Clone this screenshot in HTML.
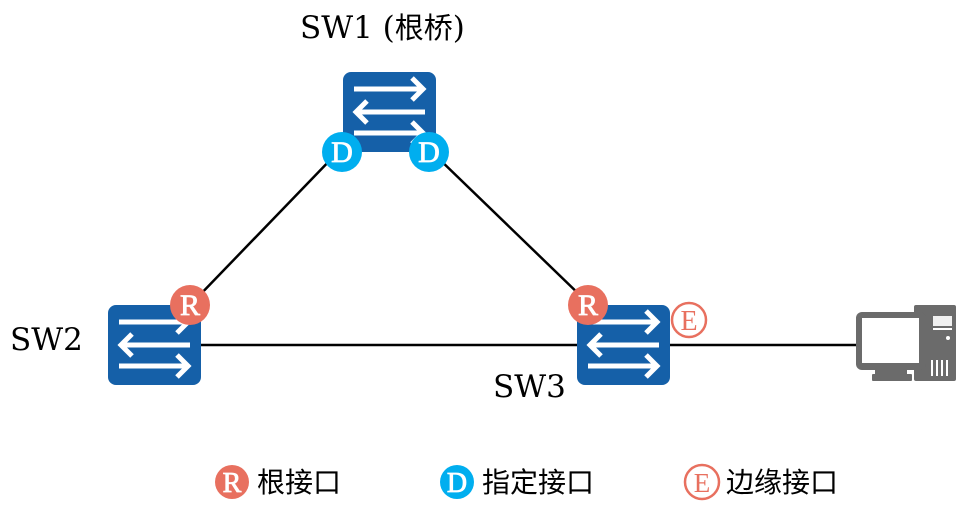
<!DOCTYPE html>
<html><head><meta charset="utf-8"><style>
html,body{margin:0;padding:0;background:#fff;width:956px;height:507px;overflow:hidden}
svg{display:block}
text{font-family:"Liberation Serif","DejaVu Serif",serif}
.lbl{font-family:"DejaVu Serif","Liberation Serif","Noto Serif CJK SC",serif;font-size:31px;fill:#000}
.cjk{font-family:"Liberation Sans","Noto Sans CJK SC",sans-serif;font-size:28px;fill:#000}
</style></head><body>
<svg width="956" height="507" viewBox="0 0 956 507">
<defs>
<g id="sw">
<rect x="0" y="0" width="93" height="80" rx="8" fill="#1560a8"/>
<g stroke="#fff" stroke-width="5" fill="none">
<line x1="11" y1="17" x2="80" y2="17"/><polyline points="69,6 80,17 69,28"/>
<line x1="13" y1="40" x2="82" y2="40"/><polyline points="24,29 13,40 24,51"/>
<line x1="11" y1="61" x2="80" y2="61"/><polyline points="69,50 80,61 69,72"/>
</g>
</g>
</defs>
<g stroke="#000" stroke-width="2.5">
<line x1="335" y1="155" x2="195" y2="300"/>
<line x1="435" y1="155" x2="585" y2="300"/>
<line x1="200" y1="345" x2="578" y2="345"/>
<line x1="669" y1="345" x2="860" y2="345"/>
</g>
<use href="#sw" x="343" y="72"/>
<use href="#sw" x="108" y="305"/>
<use href="#sw" x="577" y="305"/>
<g font-size="30" text-anchor="middle" fill="#fff" stroke="#fff" stroke-width="0.8">
<circle cx="342" cy="152" r="20" fill="#00aeef" stroke="none"/><text x="342" y="162">D</text>
<circle cx="429" cy="152" r="20" fill="#00aeef" stroke="none"/><text x="429" y="162">D</text>
<circle cx="190" cy="305" r="20" fill="#e8705f" stroke="none"/><text x="190" y="315">R</text>
<circle cx="588" cy="305" r="20" fill="#e8705f" stroke="none"/><text x="588" y="315">R</text>
</g>
<circle cx="689" cy="320" r="17" fill="#fff" stroke="#e8705f" stroke-width="2.5"/>
<text x="689" y="330" font-size="28" text-anchor="middle" fill="#e8705f">E</text>
<g fill="#6b6b6b">
<rect x="914" y="305" width="42" height="76" rx="2"/>
<rect x="856" y="312" width="70" height="58" rx="6"/>
<rect x="875" y="370" width="32" height="4"/>
<rect x="872" y="374" width="40" height="7" rx="1"/>
</g>
<rect x="862" y="318" width="57" height="45" fill="#fff"/>
<rect x="933" y="316" width="19" height="10" fill="#fff" opacity="0.9"/>
<g fill="#fff"><rect x="933" y="328" width="19" height="2"/><circle cx="948" cy="338" r="2"/>
<rect x="931" y="360" width="2" height="16"/><rect x="936" y="360" width="2" height="16"/><rect x="941" y="360" width="2" height="16"/><rect x="946" y="360" width="2" height="16"/></g>
<text class="lbl" x="300" y="38">SW1 (<tspan font-family="Noto Sans CJK SC, sans-serif" font-size="29">根桥</tspan>)</text>
<text class="lbl" x="10" y="350">SW2</text>
<text class="lbl" x="493" y="397">SW3</text>
<g font-size="28" text-anchor="middle" fill="#fff" stroke="#fff" stroke-width="0.8">
<circle cx="232" cy="482" r="17" fill="#e8705f" stroke="none"/><text x="232" y="492">R</text>
<circle cx="457" cy="482" r="17" fill="#00aeef" stroke="none"/><text x="457" y="492">D</text>
</g>
<circle cx="702" cy="482" r="17" fill="#fff" stroke="#e8705f" stroke-width="2.5"/>
<text x="702" y="492" font-size="27" text-anchor="middle" fill="#e8705f">E</text>
<text class="cjk" x="257" y="492">根接口</text>
<text class="cjk" x="482" y="492">指定接口</text>
<text class="cjk" x="726" y="492">边缘接口</text>
</svg>
</body></html>
